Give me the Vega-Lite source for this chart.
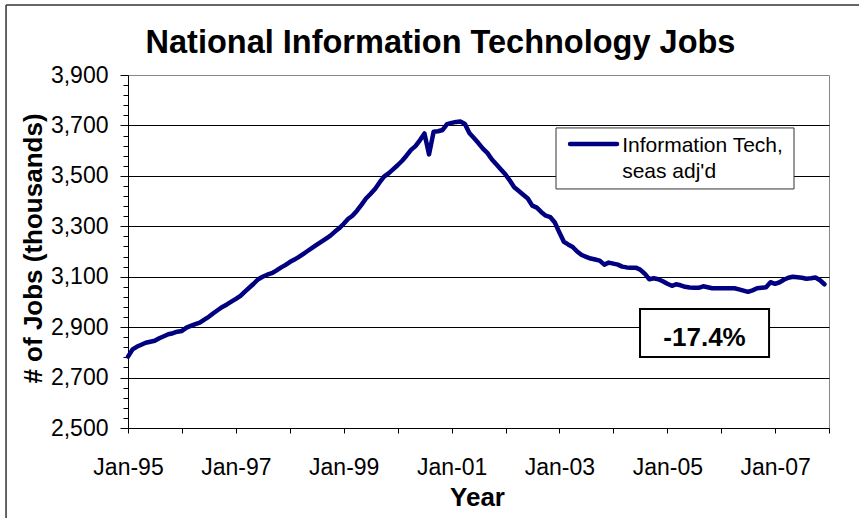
{
  "$schema": "https://vega.github.io/schema/vega-lite/v6.json",
  "width": 701,
  "height": 353,
  "autosize": {"type": "none"},
  "padding": {"left": 128, "top": 75, "right": 30, "bottom": 90},
  "background": "white",
  "config": {"font": "Liberation Sans", "view": {"stroke": "#888888", "strokeWidth": 1}},
  "title": {"text": "National Information Technology Jobs", "fontSize": 32.5, "fontWeight": "bold", "color": "black", "anchor": "middle", "frame": "group", "dx": -38, "dy": 92, "offset": 11, "baseline": "alphabetic"},
  "datasets": {
    "jobs": [
      {"date":"1995-01-01","jobs":2783},{"date":"1995-02-01","jobs":2812},{"date":"1995-03-01","jobs":2822},{"date":"1995-04-01","jobs":2830},{"date":"1995-05-01","jobs":2838},{"date":"1995-06-01","jobs":2842},{"date":"1995-07-01","jobs":2846},{"date":"1995-08-01","jobs":2856},{"date":"1995-09-01","jobs":2864},{"date":"1995-10-01","jobs":2872},{"date":"1995-11-01","jobs":2876},{"date":"1995-12-01","jobs":2882},
      {"date":"1996-01-01","jobs":2885},{"date":"1996-02-01","jobs":2898},{"date":"1996-03-01","jobs":2905},{"date":"1996-04-01","jobs":2912},{"date":"1996-05-01","jobs":2918},{"date":"1996-06-01","jobs":2930},{"date":"1996-07-01","jobs":2941},{"date":"1996-08-01","jobs":2955},{"date":"1996-09-01","jobs":2968},{"date":"1996-10-01","jobs":2980},{"date":"1996-11-01","jobs":2990},{"date":"1996-12-01","jobs":3001},
      {"date":"1997-01-01","jobs":3012},{"date":"1997-02-01","jobs":3024},{"date":"1997-03-01","jobs":3040},{"date":"1997-04-01","jobs":3056},{"date":"1997-05-01","jobs":3072},{"date":"1997-06-01","jobs":3090},{"date":"1997-07-01","jobs":3100},{"date":"1997-08-01","jobs":3108},{"date":"1997-09-01","jobs":3114},{"date":"1997-10-01","jobs":3124},{"date":"1997-11-01","jobs":3136},{"date":"1997-12-01","jobs":3146},
      {"date":"1998-01-01","jobs":3158},{"date":"1998-02-01","jobs":3168},{"date":"1998-03-01","jobs":3178},{"date":"1998-04-01","jobs":3190},{"date":"1998-05-01","jobs":3202},{"date":"1998-06-01","jobs":3214},{"date":"1998-07-01","jobs":3226},{"date":"1998-08-01","jobs":3238},{"date":"1998-09-01","jobs":3250},{"date":"1998-10-01","jobs":3262},{"date":"1998-11-01","jobs":3278},{"date":"1998-12-01","jobs":3292},
      {"date":"1999-01-01","jobs":3310},{"date":"1999-02-01","jobs":3330},{"date":"1999-03-01","jobs":3342},{"date":"1999-04-01","jobs":3362},{"date":"1999-05-01","jobs":3385},{"date":"1999-06-01","jobs":3410},{"date":"1999-07-01","jobs":3428},{"date":"1999-08-01","jobs":3448},{"date":"1999-09-01","jobs":3474},{"date":"1999-10-01","jobs":3497},{"date":"1999-11-01","jobs":3510},{"date":"1999-12-01","jobs":3526},
      {"date":"2000-01-01","jobs":3542},{"date":"2000-02-01","jobs":3560},{"date":"2000-03-01","jobs":3580},{"date":"2000-04-01","jobs":3603},{"date":"2000-05-01","jobs":3618},{"date":"2000-06-01","jobs":3642},{"date":"2000-07-01","jobs":3668},{"date":"2000-08-01","jobs":3585},{"date":"2000-09-01","jobs":3675},{"date":"2000-10-01","jobs":3677},{"date":"2000-11-01","jobs":3682},{"date":"2000-12-01","jobs":3705},
      {"date":"2001-01-01","jobs":3710},{"date":"2001-02-01","jobs":3714},{"date":"2001-03-01","jobs":3716},{"date":"2001-04-01","jobs":3706},{"date":"2001-05-01","jobs":3670},{"date":"2001-06-01","jobs":3650},{"date":"2001-07-01","jobs":3630},{"date":"2001-08-01","jobs":3608},{"date":"2001-09-01","jobs":3590},{"date":"2001-10-01","jobs":3565},{"date":"2001-11-01","jobs":3545},{"date":"2001-12-01","jobs":3525},
      {"date":"2002-01-01","jobs":3505},{"date":"2002-02-01","jobs":3480},{"date":"2002-03-01","jobs":3455},{"date":"2002-04-01","jobs":3440},{"date":"2002-05-01","jobs":3425},{"date":"2002-06-01","jobs":3410},{"date":"2002-07-01","jobs":3382},{"date":"2002-08-01","jobs":3374},{"date":"2002-09-01","jobs":3356},{"date":"2002-10-01","jobs":3342},{"date":"2002-11-01","jobs":3336},{"date":"2002-12-01","jobs":3315},
      {"date":"2003-01-01","jobs":3275},{"date":"2003-02-01","jobs":3238},{"date":"2003-03-01","jobs":3228},{"date":"2003-04-01","jobs":3218},{"date":"2003-05-01","jobs":3200},{"date":"2003-06-01","jobs":3186},{"date":"2003-07-01","jobs":3179},{"date":"2003-08-01","jobs":3172},{"date":"2003-09-01","jobs":3168},{"date":"2003-10-01","jobs":3164},{"date":"2003-11-01","jobs":3148},{"date":"2003-12-01","jobs":3156},
      {"date":"2004-01-01","jobs":3152},{"date":"2004-02-01","jobs":3148},{"date":"2004-03-01","jobs":3140},{"date":"2004-04-01","jobs":3137},{"date":"2004-05-01","jobs":3136},{"date":"2004-06-01","jobs":3136},{"date":"2004-07-01","jobs":3128},{"date":"2004-08-01","jobs":3112},{"date":"2004-09-01","jobs":3090},{"date":"2004-10-01","jobs":3094},{"date":"2004-11-01","jobs":3090},{"date":"2004-12-01","jobs":3082},
      {"date":"2005-01-01","jobs":3072},{"date":"2005-02-01","jobs":3064},{"date":"2005-03-01","jobs":3070},{"date":"2005-04-01","jobs":3066},{"date":"2005-05-01","jobs":3060},{"date":"2005-06-01","jobs":3057},{"date":"2005-07-01","jobs":3056},{"date":"2005-08-01","jobs":3056},{"date":"2005-09-01","jobs":3062},{"date":"2005-10-01","jobs":3058},{"date":"2005-11-01","jobs":3054},{"date":"2005-12-01","jobs":3054},
      {"date":"2006-01-01","jobs":3054},{"date":"2006-02-01","jobs":3054},{"date":"2006-03-01","jobs":3054},{"date":"2006-04-01","jobs":3054},{"date":"2006-05-01","jobs":3050},{"date":"2006-06-01","jobs":3045},{"date":"2006-07-01","jobs":3040},{"date":"2006-08-01","jobs":3046},{"date":"2006-09-01","jobs":3054},{"date":"2006-10-01","jobs":3056},{"date":"2006-11-01","jobs":3058},{"date":"2006-12-01","jobs":3078},
      {"date":"2007-01-01","jobs":3072},{"date":"2007-02-01","jobs":3078},{"date":"2007-03-01","jobs":3088},{"date":"2007-04-01","jobs":3096},{"date":"2007-05-01","jobs":3100},{"date":"2007-06-01","jobs":3098},{"date":"2007-07-01","jobs":3096},{"date":"2007-08-01","jobs":3092},{"date":"2007-09-01","jobs":3094},{"date":"2007-10-01","jobs":3097},{"date":"2007-11-01","jobs":3086},{"date":"2007-12-01","jobs":3070}
    ]
  },
  "layer": [
    {
      "data": {"values": [{}]},
      "mark": {"type": "rule", "color": "#333333", "strokeWidth": 1.5},
      "encoding": {
        "x": {"datum": {"year": 1992, "month": 9, "date": 27, "utc": true}, "type": "temporal"},
        "x2": {"datum": {"year": 2009, "month": 6, "date": 1, "utc": true}},
        "y": {"datum": 4178, "type": "quantitative"}
      }
    },
    {
      "data": {"values": [{}]},
      "mark": {"type": "rule", "color": "#333333", "strokeWidth": 1.5},
      "encoding": {
        "x": {"datum": {"year": 1992, "month": 9, "date": 27, "utc": true}, "type": "temporal"},
        "y": {"datum": 4178, "type": "quantitative"},
        "y2": {"datum": 2000}
      }
    },
    {
      "data": {"name": "jobs"},
      "mark": {"type": "line", "color": "#000080", "strokeWidth": 4.5, "strokeJoin": "round", "strokeCap": "round"},
      "encoding": {
        "x": {
          "field": "date", "type": "temporal",
          "scale": {"type": "utc", "domain": [{"year": 1995, "month": 1, "date": 1, "utc": true}, {"year": 2008, "month": 1, "date": 1, "utc": true}], "nice": false},
          "axis": {
            "title": "Year", "titleFontSize": 26, "titleFontWeight": "bold", "titleColor": "black",
            "titleX": 349, "titleY": 77, "titleBaseline": "alphabetic", "titleAlign": "center", "titleAnchor": null,
            "values": [
              {"year": 1995, "month": 1, "date": 1, "utc": true}, {"year": 1996, "month": 1, "date": 1, "utc": true},
              {"year": 1997, "month": 1, "date": 1, "utc": true}, {"year": 1998, "month": 1, "date": 1, "utc": true},
              {"year": 1999, "month": 1, "date": 1, "utc": true}, {"year": 2000, "month": 1, "date": 1, "utc": true},
              {"year": 2001, "month": 1, "date": 1, "utc": true}, {"year": 2002, "month": 1, "date": 1, "utc": true},
              {"year": 2003, "month": 1, "date": 1, "utc": true}, {"year": 2004, "month": 1, "date": 1, "utc": true},
              {"year": 2005, "month": 1, "date": 1, "utc": true}, {"year": 2006, "month": 1, "date": 1, "utc": true},
              {"year": 2007, "month": 1, "date": 1, "utc": true}, {"year": 2008, "month": 1, "date": 1, "utc": true}
            ],
            "tickCount": 50,
            "labelExpr": "utcyear(datum.value) % 2 === 1 ? utcFormat(datum.value, '%b-%y') : ''",
            "labelFontSize": 23, "labelColor": "black", "labelPadding": 23, "labelOverlap": false, "labelFlush": false,
            "tickSize": 5, "tickColor": "black", "tickWidth": 1,
            "domainColor": "black", "domainWidth": 1, "grid": false
          }
        },
        "y": {
          "field": "jobs", "type": "quantitative",
          "scale": {"domain": [2500, 3900], "nice": false, "zero": false},
          "axis": {
            "title": "# of Jobs (thousands)", "titleFontSize": 26, "titleFontWeight": "bold", "titleColor": "black",
            "titleX": -95, "titleY": 173, "titleAngle": -90, "titleBaseline": "middle", "titleAlign": "center", "titleAnchor": null,
            "values": [2500,2540,2580,2620,2660,2700,2740,2780,2820,2860,2900,2940,2980,3020,3060,3100,3140,3180,3220,3260,3300,3340,3380,3420,3460,3500,3540,3580,3620,3660,3700,3740,3780,3820,3860,3900],
            "tickCount": 100,
            "labelExpr": "datum.value % 200 === 100 ? format(datum.value, ',') : ''",
            "labelFontSize": 23, "labelColor": "black", "labelPadding": 12, "labelOverlap": false, "labelFlush": false,
            "tickSize": {"condition": {"test": "datum.value % 200 === 100", "value": 8}, "value": 5},
            "tickColor": "black", "tickWidth": 1,
            "domainColor": "black", "domainWidth": 1,
            "grid": true, "gridColor": "black", "gridWidth": 1,
            "gridOpacity": {"condition": {"test": "datum.value % 200 === 100 && datum.value > 2500 && datum.value < 3900", "value": 1}, "value": 0}
          }
        }
      }
    },
    {
      "data": {"values": [{}]},
      "mark": {"type": "rect", "fill": "white", "stroke": "#333333", "strokeWidth": 1},
      "encoding": {
        "x": {"datum": {"year": 2002, "month": 12, "date": 9, "utc": true}, "type": "temporal"},
        "x2": {"datum": {"year": 2007, "month": 5, "date": 9, "utc": true}},
        "y": {"datum": 3690, "type": "quantitative"},
        "y2": {"datum": 3448}
      }
    },
    {
      "data": {"values": [{}]},
      "mark": {"type": "rule", "color": "#000080", "strokeWidth": 4.5, "strokeCap": "round"},
      "encoding": {
        "x": {"datum": {"year": 2003, "month": 3, "date": 14, "utc": true}, "type": "temporal"},
        "x2": {"datum": {"year": 2004, "month": 1, "date": 26, "utc": true}},
        "y": {"datum": 3626, "type": "quantitative"}
      }
    },
    {
      "data": {"values": [{}]},
      "mark": {"type": "text", "align": "left", "baseline": "alphabetic", "fontSize": 21, "lineHeight": 26, "color": "black"},
      "encoding": {
        "x": {"datum": {"year": 2004, "month": 3, "date": 1, "utc": true}, "type": "temporal"},
        "y": {"datum": 3595, "type": "quantitative"},
        "text": {"value": ["Information Tech,", "seas adj'd"]}
      }
    },
    {
      "data": {"values": [{}]},
      "mark": {"type": "rect", "fill": "white", "stroke": "black", "strokeWidth": 2},
      "encoding": {
        "x": {"datum": {"year": 2004, "month": 6, "date": 30, "utc": true}, "type": "temporal"},
        "x2": {"datum": {"year": 2006, "month": 11, "date": 21, "utc": true}},
        "y": {"datum": 2972, "type": "quantitative"},
        "y2": {"datum": 2782}
      }
    },
    {
      "data": {"values": [{}]},
      "mark": {"type": "text", "align": "center", "baseline": "alphabetic", "fontSize": 26, "fontWeight": "bold", "color": "black"},
      "encoding": {
        "x": {"datum": {"year": 2005, "month": 9, "date": 10, "utc": true}, "type": "temporal"},
        "y": {"datum": 2827, "type": "quantitative"},
        "text": {"value": "-17.4%"}
      }
    }
  ]
}
